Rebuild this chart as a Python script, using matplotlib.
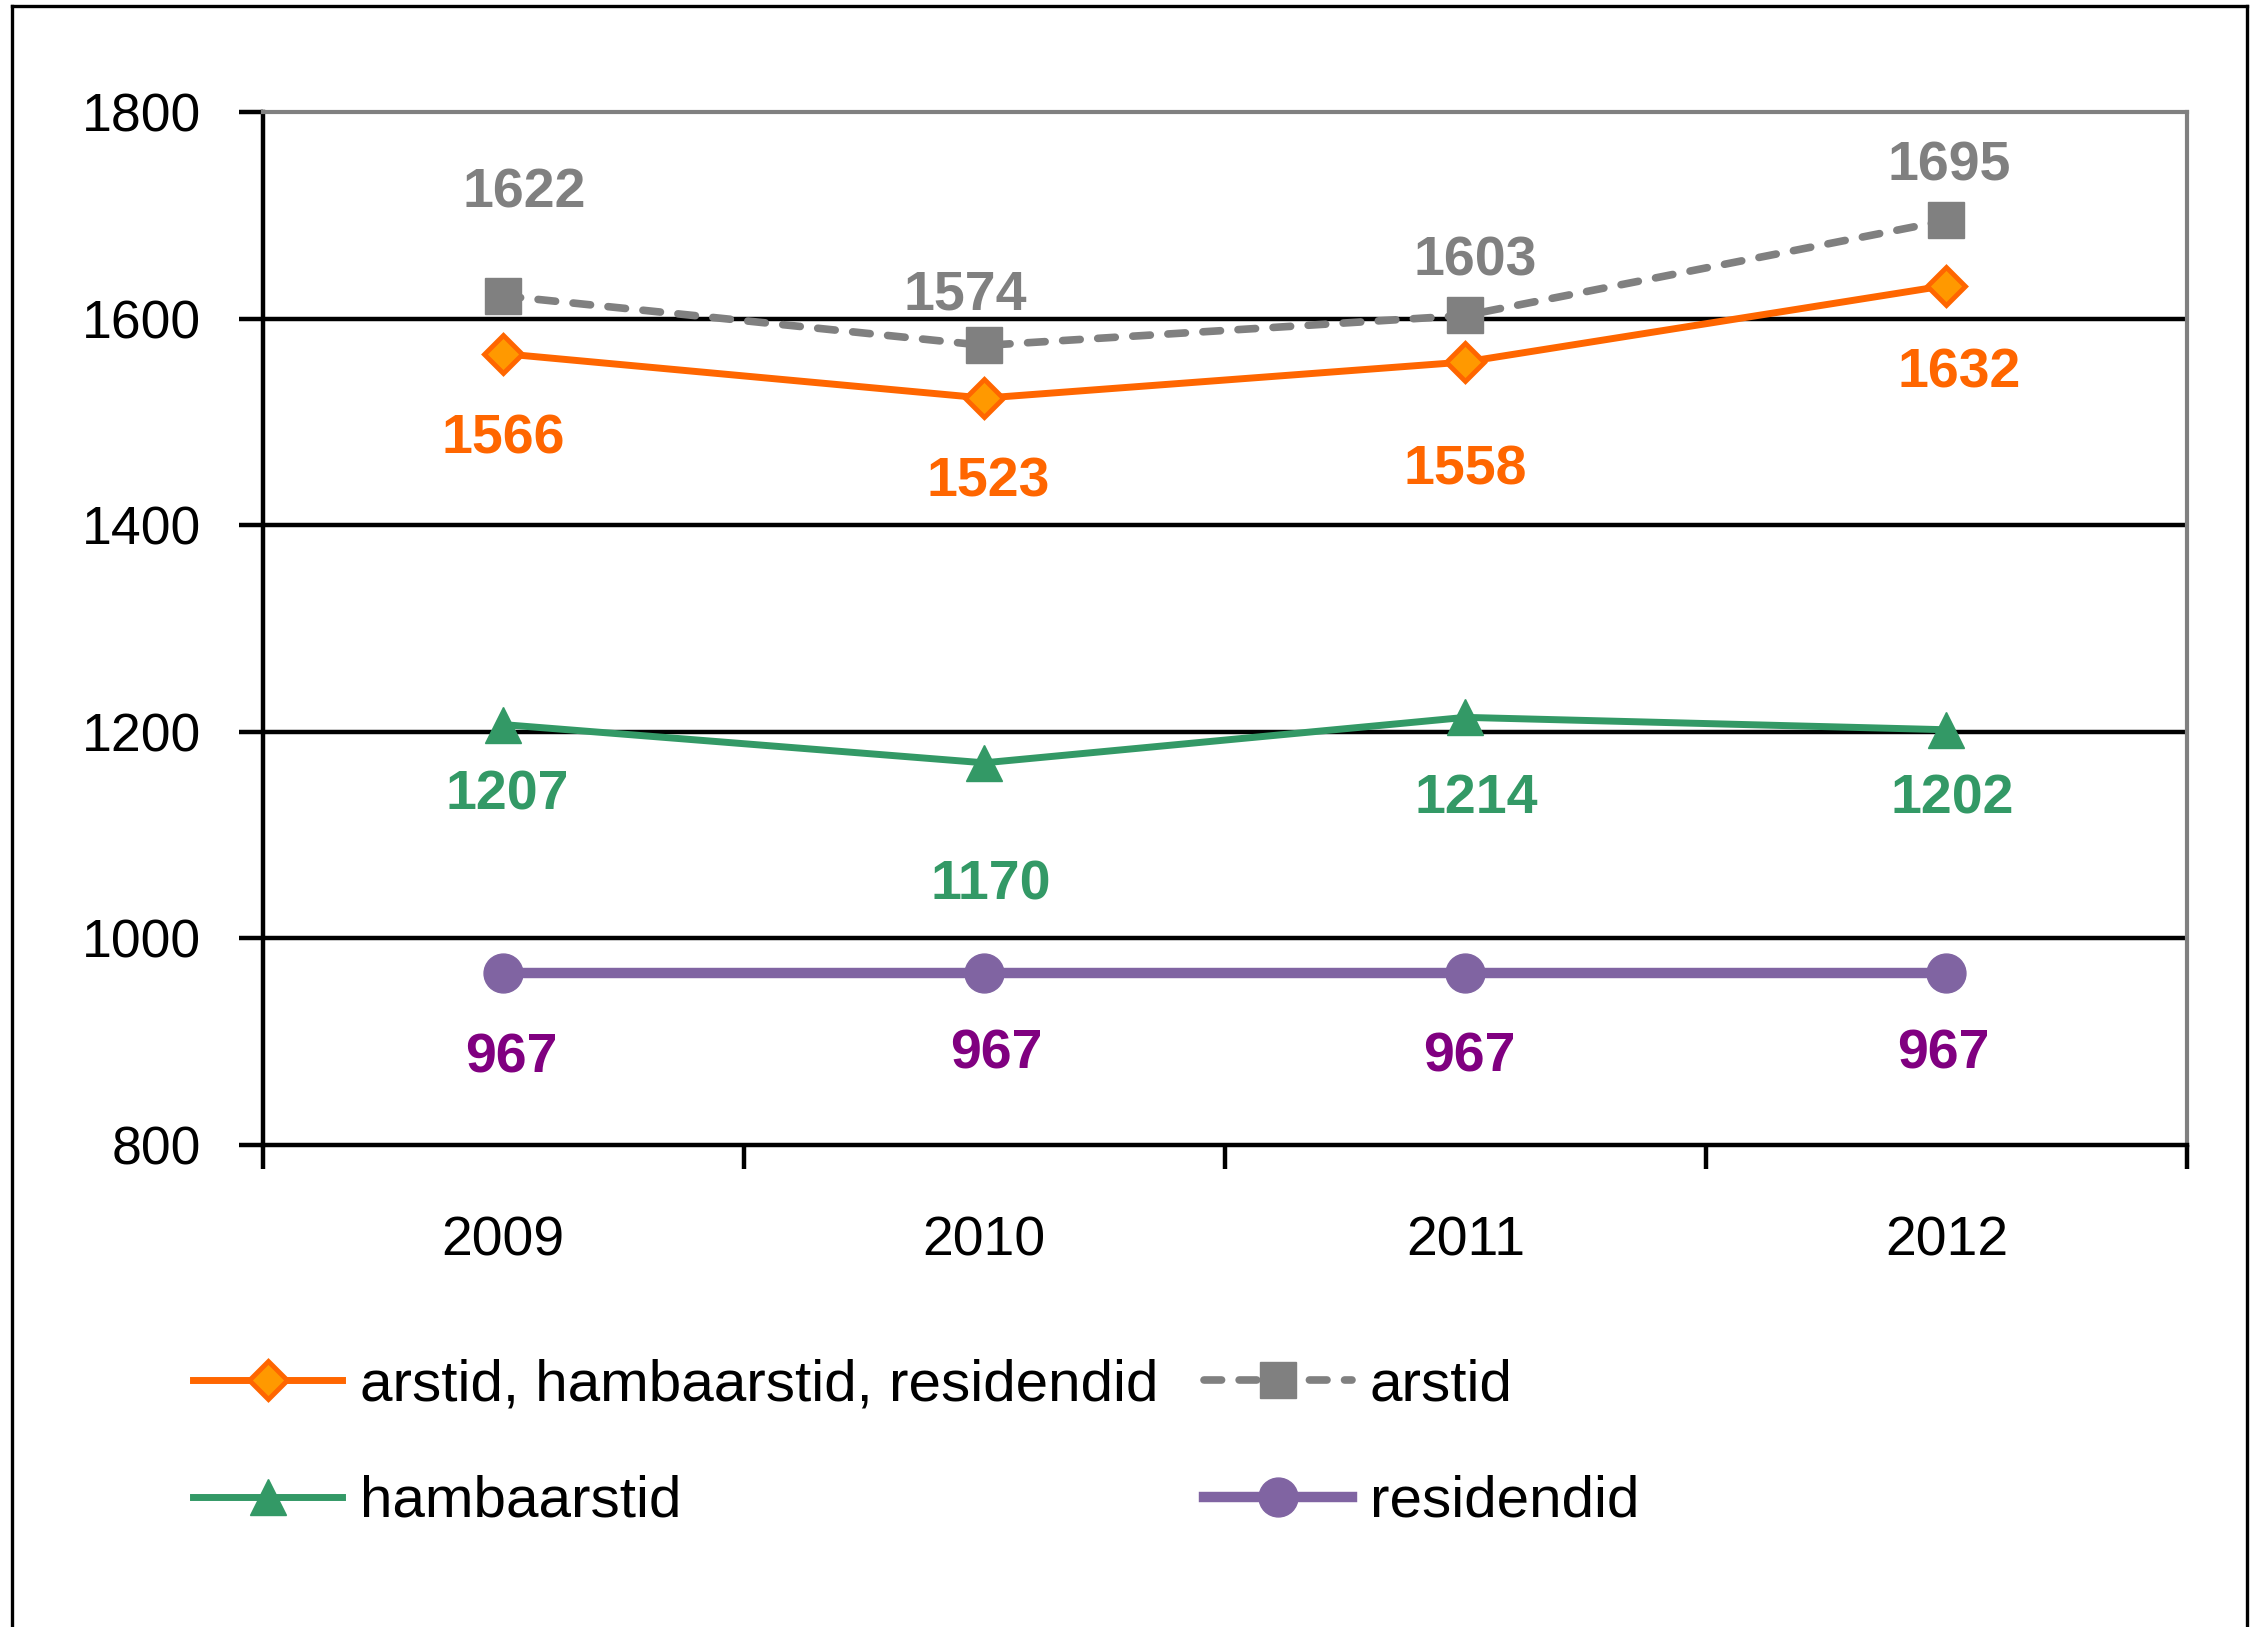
import matplotlib
matplotlib.use("Agg")
import matplotlib.pyplot as plt
from matplotlib.lines import Line2D

plt.rcParams['font.family'] = ['Liberation Sans', 'DejaVu Sans']

years = ["2009", "2010", "2011", "2012"]
combined = [1566, 1523, 1558, 1632]     # arstid, hambaarstid, residendid
arstid = [1622, 1574, 1603, 1695]
hambaarstid = [1207, 1170, 1214, 1202]
residendid = [967, 967, 967, 967]
yticks = [800, 1000, 1200, 1400, 1600, 1800]

labels = ["arstid, hambaarstid, residendid", "arstid", "hambaarstid", "residendid"]

# label offsets (points) for each data label
off_comb = [(0, -62), (3, -61), (0, -78), (9, -63)]
off_arst = [(15, 74), (-14, 36), (7, 39), (2, 39)]
off_hamb = [(3, -51), (5, -88), (8, -59), (4, -50)]
off_res = [(6, -62), (9, -59), (3, -61), (-2, -59)]

fig = plt.figure(figsize=(22.5, 16.27), dpi=100)
ax = fig.add_axes([0.1167, 0.2962, 0.972 - 0.1167, 0.9312 - 0.2962])

x = list(range(len(years)))
ORANGE = "#FF6600"
GRAY = "#808080"
GREEN = "#339966"
PURPLE = "#8064A2"

l1, = ax.plot(x, combined, color=ORANGE, lw=5, marker="D", ms=19,
              mfc="#FF9900", mec=ORANGE, mew=3.5, zorder=5)
l2, = ax.plot(x, arstid, color=GRAY, lw=5.5, ls=(0, (2.3, 2.3)),
              dash_capstyle="round", marker="s", ms=26, mfc=GRAY, mec=GRAY, zorder=4)
l3, = ax.plot(x, hambaarstid, color=GREEN, lw=5, marker="^", ms=26,
              mfc=GREEN, mec=GREEN, zorder=4)
l4, = ax.plot(x, residendid, color=PURPLE, lw=7.5, marker="o", ms=28,
              mfc=PURPLE, mec=PURPLE, zorder=4)

def annotate(vals, offs, color):
    for xi, v, o in zip(x, vals, offs):
        ax.annotate(str(v), (xi, v), xytext=o, textcoords="offset points",
                    ha="center", va="center", fontsize=40, fontweight="bold",
                    color=color, zorder=6)

annotate(combined, off_comb, ORANGE)
annotate(arstid, off_arst, GRAY)
annotate(hambaarstid, off_hamb, GREEN)
annotate(residendid, off_res, "#800080")

ax.set_xlim(-0.5, 3.5)
ax.set_ylim(800, 1800)
ax.set_yticks(yticks)
ax.set_yticklabels([str(t) for t in yticks])
ax.set_xticks([-0.5, 0.5, 1.5, 2.5, 3.5])
ax.set_xticklabels([])
ax.set_xticks(x, minor=True)
ax.set_xticklabels(years, minor=True)
ax.tick_params(axis="x", which="major", length=17, width=3.2, direction="out", color="black")
ax.tick_params(axis="x", which="minor", length=0, pad=51, labelsize=40)
ax.tick_params(axis="y", length=17, width=3.2, direction="out", pad=27, labelsize=38.5)

for yv in yticks[1:-1]:
    ax.axhline(yv, color="black", lw=3.2, zorder=1)

ax.spines["left"].set_color("black")
ax.spines["left"].set_linewidth(3.2)
ax.spines["bottom"].set_color("black")
ax.spines["bottom"].set_linewidth(3.2)
ax.spines["top"].set_color(GRAY)
ax.spines["top"].set_linewidth(3)
ax.spines["right"].set_color(GRAY)
ax.spines["right"].set_linewidth(3)

# column-major ordering so rows read: (combined, arstid), (hambaarstid, residendid)
leg = fig.legend([l1, l3, l2, l4], [labels[0], labels[2], labels[1], labels[3]],
                 ncol=2, loc="upper left",
                 bbox_to_anchor=(0.086, 0.165), frameon=False, fontsize=42,
                 handlelength=2.55, handletextpad=0.3, columnspacing=0.78,
                 labelspacing=1.07, borderpad=0, borderaxespad=0)

# outer figure border (left, top, right)
fig.add_artist(Line2D([12/2250, 12/2250], [0, 1 - 6/1627], transform=fig.transFigure,
                      color="black", lw=2.4))
fig.add_artist(Line2D([12/2250, 2247/2250], [1 - 6/1627, 1 - 6/1627], transform=fig.transFigure,
                      color="black", lw=2.4))
fig.add_artist(Line2D([2247/2250, 2247/2250], [0, 1 - 6/1627], transform=fig.transFigure,
                      color="black", lw=2.4))

fig.savefig("out.png", dpi=100)
